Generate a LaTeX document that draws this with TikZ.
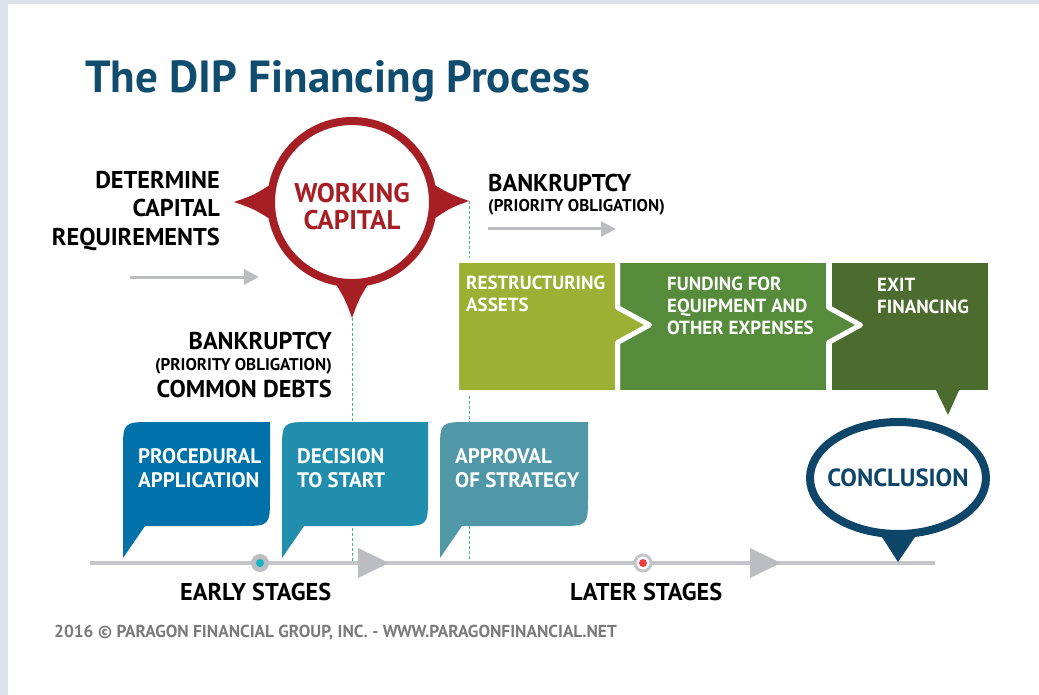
\documentclass[tikz,border=0pt]{standalone}
\usepackage{fontspec}
\setmainfont{PT Sans}
\usetikzlibrary{arrows.meta,shapes.geometric}
\definecolor{dipblue}{HTML}{0F4C6E}
\definecolor{dipred}{HTML}{A61F24}
\definecolor{arrowgrey}{HTML}{BBBDC0}
\definecolor{linegrey}{HTML}{C3C5C8}
\definecolor{olive}{HTML}{9CB033}
\definecolor{midgreen}{HTML}{558B3B}
\definecolor{darkgreen}{HTML}{4B6B2F}
\definecolor{bluea}{HTML}{0072A9}
\definecolor{blueb}{HTML}{228EAE}
\definecolor{bluec}{HTML}{5097A7}
\definecolor{conblue}{HTML}{0D4669}
\definecolor{dotgreen}{HTML}{3DBE7A}
\definecolor{dotcyan}{HTML}{1AB3C6}
\definecolor{dotred}{HTML}{EE3B3B}
\definecolor{footgrey}{HTML}{7B7B7B}
\definecolor{framegrey}{HTML}{DCE2EB}
\begin{document}
\begin{tikzpicture}[x=1pt,y=-1pt,
  every node/.style={inner sep=0pt},
  titletxt/.style={font=\bfseries\fontsize{45}{48}\selectfont, text=dipblue},
  bigtxt/.style={font=\bfseries\fontsize{24.3}{28.5}\selectfont},
  smalltxt/.style={font=\bfseries\fontsize{17}{18}\selectfont},
  boxtxt/.style={font=\bfseries\fontsize{19}{22}\selectfont, text=white, align=left, anchor=north west},
  bubtxt/.style={font=\bfseries\fontsize{21}{24}\selectfont, text=white, align=left, anchor=north west},
  greyarrow/.style={draw=arrowgrey, line width=3pt, -{Triangle[length=15pt,width=15pt]}},
  dotline/.style={draw=dotgreen, line width=1pt, dash pattern=on 3pt off 2pt},
  gapline/.style={draw=white, line width=5pt, line join=round}]
\useasboundingbox (0,0) rectangle (1039,695);
\fill[framegrey] (0,0) rectangle (1039,4);
\fill[framegrey] (0,0) rectangle (8,695);

% title
\node[titletxt, anchor=base west] (title) at (85,93) {The DIP Financing Process};

% dotted guides
\coordinate (tipS) at (352,318);
\coordinate (tipE) at (469,201);
\coordinate (tlS) at (352,563);
\coordinate (tlE) at (469,563);
\draw[dotline] (tipS) -- (tlS);
\draw[dotline] (tipE) -- (tlE);

% timeline
\coordinate (tlL) at (90,563);
\coordinate (tlR) at (935,563);
\draw[draw=linegrey, line width=4pt] (tlL) -- (tlR);
\fill[arrowgrey] (358,548) -- (389,563) -- (358,578) -- cycle;
\fill[arrowgrey] (750,548) -- (781,563) -- (750,578) -- cycle;
\node[circle, fill=arrowgrey, minimum size=18pt] (dotA) at (260,563) {};
\fill[dotcyan] (dotA) circle (4);
\node[circle, fill=white, draw=linegrey, line width=3pt, minimum size=16pt] (dotB) at (643,563) {};
\fill[dotred] (dotB) circle (4);
\node[bigtxt, anchor=base west] (early) at (180,600) {EARLY STAGES};
\node[bigtxt, anchor=base west] (later) at (570,600) {LATER STAGES};

% determine block
\node[bigtxt, align=right, anchor=north east] (need) at (220,171) {DETERMINE\\CAPITAL\\REQUIREMENTS};
\coordinate (needA) at (130,277);
\coordinate (needB) at (259,277);
\draw[greyarrow] (needA) -- (needB);

% working capital
\fill[dipred] (273,183) .. controls (254,195) .. (234,202) .. controls (254,209) .. (273,221) -- cycle;
\fill[dipred] (431,183) .. controls (450,194) .. (469,201) .. controls (450,208) .. (431,221) -- cycle;
\fill[dipred] (334,281) .. controls (345,299) .. (352,318) .. controls (359,299) .. (370,281) -- cycle;
\node[circle, draw=dipred, fill=white, line width=8pt, minimum size=162pt] (wc) at (352,202) {};
\node[font=\bfseries\fontsize{27}{27}\selectfont, text=dipred, align=center, anchor=north] (wctext) at (352,183) {WORKING\\CAPITAL};

% bankruptcy, right
\node[bigtxt, anchor=base west] (bankR) at (488,192) {BANKRUPTCY};
\node[smalltxt, anchor=base west] (prioR) at (488,212) {(PRIORITY OBLIGATION)};
\coordinate (bankA) at (488,229);
\coordinate (bankB) at (616,229);
\draw[greyarrow] (bankA) -- (bankB);

% bankruptcy, left
\node[bigtxt, anchor=base east] (bankL) at (332,349) {BANKRUPTCY};
\node[smalltxt, anchor=base east] (prioL) at (332,370) {(PRIORITY OBLIGATION)};
\node[bigtxt, anchor=base east] (debts) at (332,397) {COMMON DEBTS};

% green steps
\fill[darkgreen] (832,263) rectangle (988,390);
\fill[darkgreen] (935,388) -- (960,388) -- (948,415) -- cycle;
\filldraw[fill=midgreen, gapline] (617.5,260.5) -- (828.5,260.5) -- (828.5,307.5) -- (860.5,325) -- (828.5,342.5) -- (828.5,392.5) -- (617.5,392.5) -- cycle;
\filldraw[fill=olive, gapline] (456.5,260.5) -- (617.5,260.5) -- (617.5,307.5) -- (649.5,325) -- (617.5,342.5) -- (617.5,392.5) -- (456.5,392.5) -- cycle;
\node[boxtxt] (restr) at (466,276) {RESTRUCTURING\\ASSETS};
\node[boxtxt] (fund) at (667,277) {FUNDING FOR\\EQUIPMENT AND\\OTHER EXPENSES};
\node[boxtxt] (exit) at (877,278) {EXIT\\FINANCING};

% speech bubbles
\fill[bluea] (123,558) -- (123,452) .. controls (123,422) .. (153,422) -- (270,422) -- (270,496) .. controls (270,526) .. (240,526) -- (145,526) -- cycle;
\fill[blueb] (282,558) -- (282,452) .. controls (282,422) .. (312,422) -- (428,422) -- (428,496) .. controls (428,526) .. (398,526) -- (304,526) -- cycle;
\fill[bluec] (440,558) -- (440,452) .. controls (440,422) .. (470,422) -- (588,422) -- (588,496) .. controls (588,526) .. (558,526) -- (462,526) -- cycle;
\node[bubtxt] (proc) at (138,448) {PROCEDURAL\\APPLICATION};
\node[bubtxt] (decide) at (297,448) {DECISION\\TO START};
\node[bubtxt] (approve) at (455,448) {APPROVAL\\OF STRATEGY};

% conclusion
\fill[conblue] (880,534) -- (917,534) -- (898,562) -- cycle;
\node[ellipse, draw=conblue, fill=white, line width=8pt, minimum width=176pt, minimum height=112pt] (concl) at (898,478) {};
\node[font=\bfseries\fontsize{24.8}{26}\selectfont, text=conblue] (concltext) at (concl) {CONCLUSION};

% footer
\node[font=\bfseries\fontsize{17.3}{18}\selectfont, text=footgrey, anchor=base west] (foot) at (54,637) {2016 © PARAGON FINANCIAL GROUP, INC. - WWW.PARAGONFINANCIAL.NET};
\end{tikzpicture}
\end{document}
